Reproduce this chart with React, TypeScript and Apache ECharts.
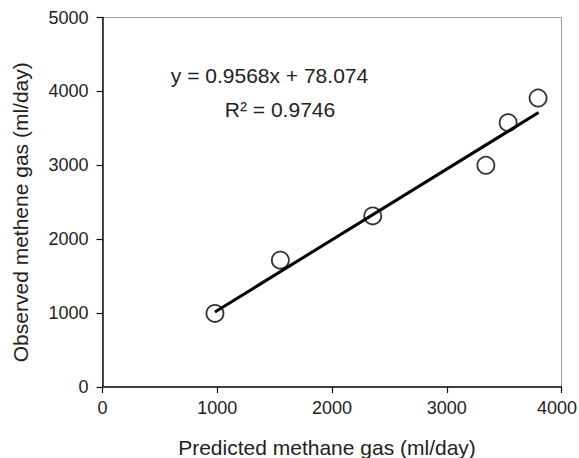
import React, { useEffect, useRef } from "react";
import * as echarts from "echarts";

const predicted = [980, 1550, 2355, 3341, 3535, 3796];
const observed = [996, 1716, 2315, 3000, 3577, 3910];
const slope = 0.9568;
const intercept = 78.074;
const trendRange = [980, 3800];
const xTicks = [0, 1000, 2000, 3000, 4000];
const yTicks = [0, 1000, 2000, 3000, 4000, 5000];
const eqText = "y = 0.9568x + 78.074";
const r2Text = "R² = 0.9746";
const xName = "Predicted methane gas (ml/day)";
const yName = "Observed methene gas (ml/day)";

export default function App() {
  const ref = useRef<HTMLDivElement>(null);
  useEffect(() => {
    if (!ref.current) return;
    const chart = echarts.init(ref.current, null, { renderer: "svg" });
    const font = "'Liberation Sans', Arial, sans-serif";
    const textColor = "#222";
    const xMax = xTicks[xTicks.length - 1];
    chart.setOption({
      animation: false,
      backgroundColor: "#fff",
      grid: {
        left: 102.5,
        right: 17.5,
        top: 17.5,
        bottom: 71,
        show: true,
        borderColor: "#9a9a9a",
        borderWidth: 1,
        containLabel: false,
        outerBoundsMode: "none",
      },
      xAxis: {
        type: "value",
        min: xTicks[0],
        max: xMax,
        interval: 1000,
        name: xName,
        nameLocation: "middle",
        nameGap: 50,
        nameTextStyle: { fontFamily: font, fontSize: 21, color: textColor, padding: [0, 10, 0, 0] },
        axisLine: { show: true, onZero: false, lineStyle: { color: "#111", width: 1.5 } },
        axisTick: { show: true, length: 6, inside: false, lineStyle: { color: "#111", width: 1.2 } },
        axisLabel: {
          fontFamily: font,
          fontSize: 18,
          color: textColor,
          margin: 12,
          formatter: (v: number) => (v === xMax ? `{last|${v}}` : String(v)),
          rich: {
            last: { fontFamily: font, fontSize: 18, color: textColor, padding: [0, 9, 0, 0] },
          },
        },
        splitLine: { show: false },
      },
      yAxis: {
        type: "value",
        min: yTicks[0],
        max: yTicks[yTicks.length - 1],
        interval: 1000,
        name: yName,
        nameLocation: "middle",
        nameGap: 72,
        nameRotate: 90,
        nameTextStyle: { fontFamily: font, fontSize: 21, color: textColor, padding: [0, 20, 0, 0] },
        axisLine: { show: true, onZero: false, lineStyle: { color: "#111", width: 1.5 } },
        axisTick: { show: true, length: 6, inside: false, lineStyle: { color: "#111", width: 1.2 } },
        axisLabel: { fontFamily: font, fontSize: 18, color: textColor, margin: 14, formatter: (v: number) => String(v) },
        splitLine: { show: false },
      },
      series: [
        {
          type: "line",
          data: trendRange.map((x) => [x, slope * x + intercept]),
          showSymbol: false,
          symbol: "none",
          lineStyle: { color: "#000", width: 3 },
          z: 2,
        },
        {
          type: "scatter",
          data: predicted.map((x, i) => [x, observed[i]]),
          symbol: "circle",
          symbolSize: 17,
          itemStyle: { color: "rgba(255,255,255,0)", borderColor: "#000", borderWidth: 1.8 },
          z: 3,
        },
      ],
      graphic: [
        {
          type: "text",
          x: 269.5,
          y: 75,
          style: {
            text: eqText,
            fontFamily: font,
            fontSize: 21,
            fill: textColor,
            align: "center",
            verticalAlign: "middle",
          },
        },
        {
          type: "text",
          x: 280,
          y: 109,
          style: {
            text: r2Text,
            fontFamily: font,
            fontSize: 21,
            fill: textColor,
            align: "center",
            verticalAlign: "middle",
          },
        },
      ],
    });
    return () => chart.dispose();
  }, []);
  return (
    <div
      ref={ref}
      style={{ position: "fixed", left: 0, top: 0, width: 579, height: 458 }}
    />
  );
}
